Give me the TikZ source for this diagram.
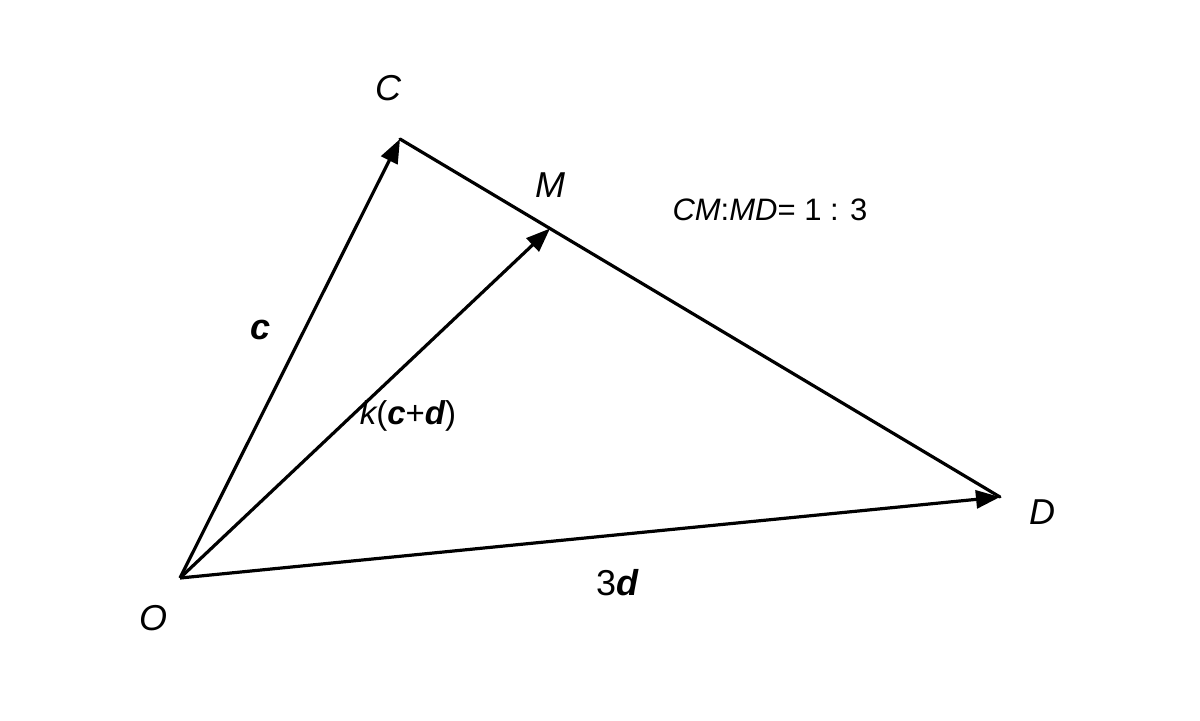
\documentclass[tikz,border=0pt]{standalone}
\usepackage{fontspec}
\setmainfont{Liberation Sans}
\usetikzlibrary{arrows.meta}
\tikzset{
  vec/.style={line width=1.6pt,-{Triangle[length=12pt,width=9pt]}},
  seg/.style={line width=1.6pt},
  lbl/.style={font=\fontsize{18}{20}\selectfont\itshape},
  small/.style={font=\fontsize{15.5}{17}\selectfont}
}
\begin{document}
\begin{tikzpicture}[x=0.5pt,y=-0.5pt]
\useasboundingbox (0,0) rectangle (1200,720);
\coordinate (O) at (180,578);
\coordinate (C) at (400,139);
\coordinate (D) at (1000,497);
\coordinate (M) at (550,228.5);
\draw[seg,line cap=round] (C) -- (D);
\draw[vec] (O) -- (C);
\draw[vec] (O) -- (M);
\draw[vec] (O) -- (D);
\node[lbl] (lC) at (388,88) {C};
\node[lbl] (lM) at (550,185) {M};
\node[lbl] (lD) at (1042,512) {D};
\node[lbl] (lO) at (153,618) {O};
\node[lbl] (lc) at (261,330) {\bfseries\itshape c};
\node[font=\fontsize{16.5}{18}\selectfont] (lk) at (408,416) {\itshape k\upshape(\bfseries\itshape c\mdseries\upshape+\bfseries\itshape d\mdseries\upshape)};
\node[font=\fontsize{18}{20}\selectfont] (l3d) at (617,583) {3\bfseries\itshape d};
\node[small] (ratio) at (770,210) {\itshape CM\upshape:\itshape MD\upshape= 1 : 3};
\end{tikzpicture}
\end{document}
